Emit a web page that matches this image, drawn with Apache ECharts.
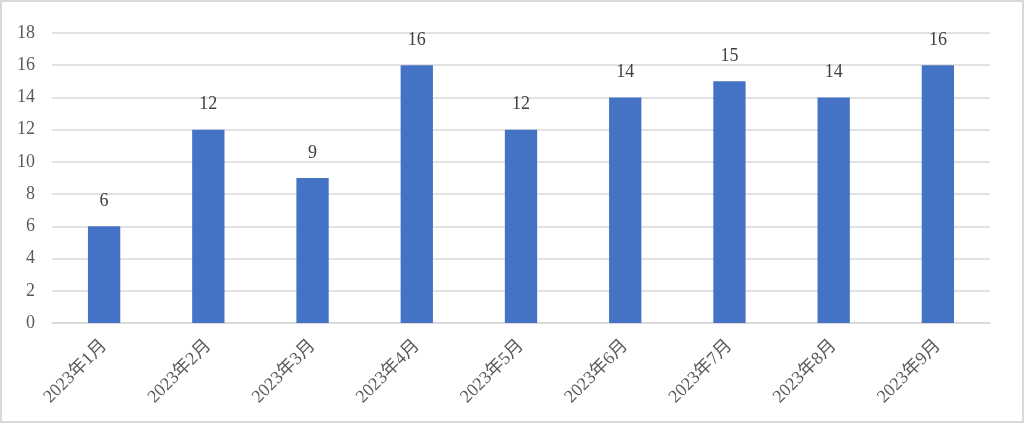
<!DOCTYPE html>
<html><head><meta charset="utf-8">
<script src="https://cdn.jsdelivr.net/npm/echarts@6/dist/echarts.min.js"></script>
<style>
html,body{margin:0;padding:0;background:#fff;}
#c{width:1024px;height:423px;box-sizing:border-box;border:2px solid #d9d9d9;}
</style></head><body>
<div id="c"></div>
<script>
const categories = ['2023年1月','2023年2月','2023年3月','2023年4月','2023年5月','2023年6月','2023年7月','2023年8月','2023年9月'];
const values = [6, 12, 9, 16, 12, 14, 15, 14, 16];
const yTicks = {min: 0, max: 18, interval: 2};
const font = '"Liberation Serif", "DejaVu Serif", "Noto Sans CJK JP", serif';
const chart = echarts.init(document.getElementById('c'), null, {renderer: 'canvas'});
chart.setOption({
  animation: false,
  grid: {left: 50, right: 32, top: 31, bottom: 98, containLabel: false},
  xAxis: {
    type: 'category', data: categories,
    axisLine: {lineStyle: {color: '#d9d9d9', width: 1.5}},
    axisTick: {show: false},
    axisLabel: {rotate: 45, color: '#595959', fontSize: 18, fontFamily: font, margin: 20, interval: 0}
  },
  yAxis: {
    type: 'value', min: yTicks.min, max: yTicks.max, interval: yTicks.interval,
    axisLine: {show: false}, axisTick: {show: false},
    splitLine: {lineStyle: {color: '#d9d9d9', width: 1.5}},
    axisLabel: {color: '#595959', fontSize: 18, fontFamily: font, margin: 17}
  },
  series: [{
    type: 'bar', data: values, barWidth: '31%',
    itemStyle: {color: '#4472c4'},
    label: {show: true, position: 'top', distance: 16, color: '#404040', fontSize: 18, fontFamily: font}
  }]
});
</script></body></html>
